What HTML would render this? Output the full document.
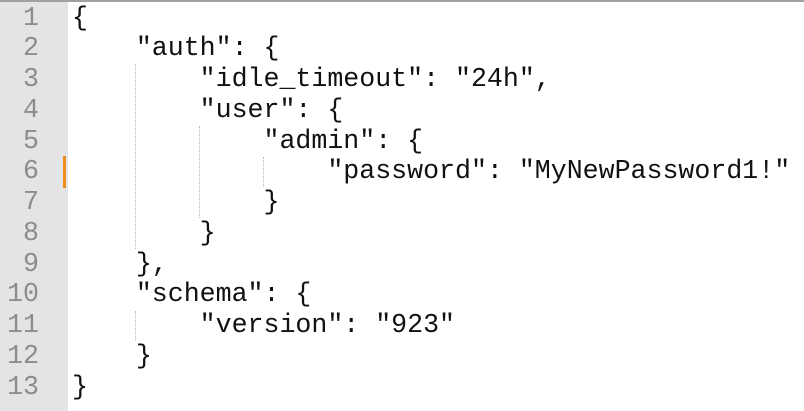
<!DOCTYPE html>
<html><head><style>
html,body{margin:0;padding:0;width:804px;height:411px;overflow:hidden;background:#fff;}
.top{position:absolute;left:0;top:0;width:804px;height:2px;background:#a0a0a0;}
.gut{position:absolute;left:0;top:2px;width:68px;height:409px;background:#e4e4e4;}
.ln{position:absolute;left:0;width:39px;text-align:right;font-family:"Liberation Mono",monospace;font-size:26.6px;color:#8c8c8c;height:30.75px;line-height:30.75px;}
.cd{position:absolute;left:72px;font-family:"Liberation Mono",monospace;font-size:26.6px;color:#111;height:30.75px;line-height:30.75px;white-space:pre;}
.g{position:absolute;width:0;border-left:1px dotted #b8b8b8;}
.mark{position:absolute;left:63px;top:156px;width:3px;height:32px;background:#f08c1e;}
</style></head><body>
<div class="top"></div>
<div class="gut"></div>
<div class="mark"></div>
<div class="g" style="left:135px;top:64px;height:185px"></div>
<div class="g" style="left:199px;top:126px;height:92px"></div>
<div class="g" style="left:263px;top:157px;height:30px"></div>
<div class="g" style="left:135px;top:311px;height:30px"></div>

<div class="ln" style="top:2.6px">1</div><div class="cd" style="top:2.6px">{</div>
<div class="ln" style="top:33.35px">2</div><div class="cd" style="top:33.35px">    "auth": {</div>
<div class="ln" style="top:64.1px">3</div><div class="cd" style="top:64.1px">        "idle_timeout": "24h",</div>
<div class="ln" style="top:94.85px">4</div><div class="cd" style="top:94.85px">        "user": {</div>
<div class="ln" style="top:125.6px">5</div><div class="cd" style="top:125.6px">            "admin": {</div>
<div class="ln" style="top:156.35px">6</div><div class="cd" style="top:156.35px">                "password": "MyNewPassword1!"</div>
<div class="ln" style="top:187.1px">7</div><div class="cd" style="top:187.1px">            }</div>
<div class="ln" style="top:217.85px">8</div><div class="cd" style="top:217.85px">        }</div>
<div class="ln" style="top:248.6px">9</div><div class="cd" style="top:248.6px">    },</div>
<div class="ln" style="top:279.35px">10</div><div class="cd" style="top:279.35px">    "schema": {</div>
<div class="ln" style="top:310.1px">11</div><div class="cd" style="top:310.1px">        "version": "923"</div>
<div class="ln" style="top:340.85px">12</div><div class="cd" style="top:340.85px">    }</div>
<div class="ln" style="top:371.6px">13</div><div class="cd" style="top:371.6px">}</div>
</body></html>
